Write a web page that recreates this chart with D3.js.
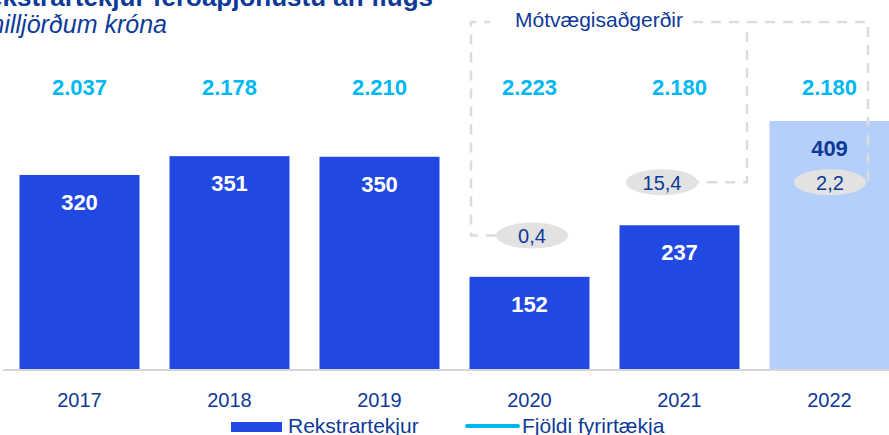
<!DOCTYPE html>
<html>
<head>
    <script type="text/javascript" src="https://d3js.org/d3.v7.min.js"></script>
    <style>
        body { margin: 0; background: #fff; }
        svg { display: block; font-family: "Liberation Sans", Arial, sans-serif; }
    </style>
</head>
<body>
    <svg></svg>
    <script>
        // Chart data
        const years = ["2017", "2018", "2019", "2020", "2021", "2022"];
        const revenue = [320, 351, 350, 152, 237, 409];
        const companies = ["2.037", "2.178", "2.210", "2.223", "2.180", "2.180"];
        const estimated = [false, false, false, false, false, true];
        // Mótvægisaðgerðir (counter-measures), bn ISK, and the level they sit at
        const mitYears = ["2020", "2021", "2022"];
        const mitValues = ["0,4", "15,4", "2,2"];
        const mitLevel = [220, 308, 308];
        const mitShift = [2.5, -17.5, 0.5];

        const W = 889, H = 435;
        const svg = d3.select("svg").attr("width", W).attr("height", H);

        const navy = "#0d3a98", blue = "#2149e2", light = "#b5cffb",
              cyan = "#00b8f1", grey = "#dcdcdc";

        const x = d3.scaleBand()
            .domain(years)
            .range([4.5, 904.5])
            .paddingInner(0.2)
            .paddingOuter(0.1);

        const y = d3.scaleLinear()
            .domain([0, 500])
            .range([369, 369 - 500 * 0.6064]);

        // Title (cut off at top-left like the original)
        svg.append("text")
            .attr("x", 433).attr("y", 6)
            .attr("text-anchor", "end")
            .attr("font-size", 26).attr("font-weight", "bold")
            .attr("fill", navy)
            .text("Rekstrartekjur ferðaþjónustu án flugs");
        svg.append("text")
            .attr("x", 167).attr("y", 33)
            .attr("text-anchor", "end")
            .attr("font-size", 25).attr("font-style", "italic")
            .attr("fill", navy)
            .text("Í milljörðum króna");

        const rows = years.map((yr, i) => ({ yr, v: revenue[i], n: companies[i], est: estimated[i] }));

        // Bars
        svg.append("g").selectAll("rect")
            .data(rows)
            .enter()
            .append("rect")
            .attr("x", d => x(d.yr))
            .attr("y", d => y(d.v))
            .attr("width", x.bandwidth())
            .attr("height", d => y(0) - y(d.v))
            .attr("fill", d => d.est ? light : blue);

        // Baseline
        svg.append("line")
            .attr("x1", 3).attr("x2", W)
            .attr("y1", y(0) + 1).attr("y2", y(0) + 1)
            .attr("stroke", "#d6d6d6").attr("stroke-width", 2);

        // Dashed bracket for Mótvægisaðgerðir
        const m = mitYears.map((yr, i) => ({
            cx: x(yr) + x.bandwidth() / 2 + mitShift[i],
            cy: y(mitLevel[i]),
            t: mitValues[i]
        }));
        const topY = 22;
        const leftX = x("2020") + 1.5;
        const midX = x("2021") + x.bandwidth() + 7.5;
        const rightX = m[2].cx + 38;
        const dash = svg.append("g")
            .attr("fill", "none")
            .attr("stroke", grey)
            .attr("stroke-width", 2.5)
            .attr("stroke-dasharray", "10,8");
        dash.append("path")
            .attr("d", `M${m[0].cx - 36},${m[0].cy} H${leftX} V${topY} H${leftX + 19}`);
        dash.append("path")
            .attr("d", `M${693},${topY} H${rightX} V${m[2].cy}`);
        dash.append("path")
            .attr("d", `M${midX},${topY + 10} V${m[1].cy} H${m[1].cx + 36}`);

        svg.append("text")
            .attr("x", 599).attr("y", 27)
            .attr("text-anchor", "middle")
            .attr("font-size", 21)
            .attr("fill", navy)
            .text("Mótvægisaðgerðir");

        // Company counts
        svg.append("g").selectAll("text")
            .data(rows)
            .enter()
            .append("text")
            .attr("x", d => x(d.yr) + x.bandwidth() / 2)
            .attr("y", 95)
            .attr("text-anchor", "middle")
            .attr("font-size", 22).attr("font-weight", "bold")
            .attr("fill", cyan)
            .text(d => d.n);

        // Revenue labels
        svg.append("g").selectAll("text")
            .data(rows)
            .enter()
            .append("text")
            .attr("x", d => x(d.yr) + x.bandwidth() / 2)
            .attr("y", d => y(d.v) + 35)
            .attr("text-anchor", "middle")
            .attr("font-size", 22).attr("font-weight", "bold")
            .attr("fill", d => d.est ? navy : "#fff")
            .text(d => d.v);

        // Ellipses
        const ell = svg.append("g").selectAll("g")
            .data(m)
            .enter()
            .append("g");
        ell.append("ellipse")
            .attr("cx", d => d.cx).attr("cy", d => d.cy)
            .attr("rx", 36).attr("ry", 13)
            .attr("fill", "#e2e2e2");
        ell.append("text")
            .attr("x", d => d.cx).attr("y", d => d.cy + 7.5)
            .attr("text-anchor", "middle")
            .attr("font-size", 20)
            .attr("fill", navy)
            .text(d => d.t);

        // Year axis
        const axis = svg.append("g")
            .attr("transform", `translate(0,${y(0)})`)
            .call(d3.axisBottom(x).tickSize(0).tickPadding(24));
        axis.select(".domain").remove();
        axis.selectAll("text")
            .attr("font-family", "Liberation Sans, Arial, sans-serif")
            .attr("font-size", 20)
            .attr("fill", navy);

        // Legend
        const lg = svg.append("g");
        lg.append("rect")
            .attr("x", 231).attr("y", 422).attr("width", 51).attr("height", 10)
            .attr("fill", blue);
        lg.append("text")
            .attr("x", 288).attr("y", 433)
            .attr("font-size", 21).attr("fill", navy)
            .text("Rekstrartekjur");
        lg.append("line")
            .attr("x1", 467).attr("x2", 518).attr("y1", 426).attr("y2", 426)
            .attr("stroke", cyan).attr("stroke-width", 4).attr("stroke-linecap", "round");
        lg.append("text")
            .attr("x", 522).attr("y", 433)
            .attr("font-size", 21).attr("fill", navy)
            .text("Fjöldi fyrirtækja");
    </script>
</body>
</html>
